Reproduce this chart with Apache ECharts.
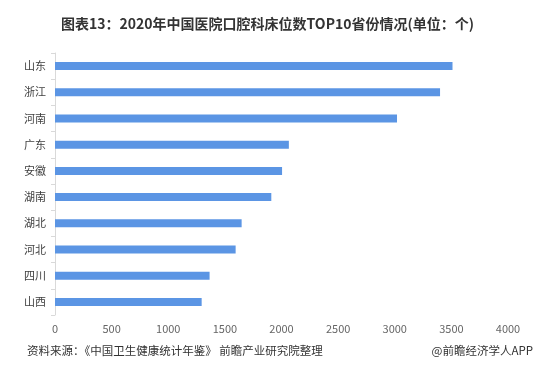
<!DOCTYPE html>
<html><head><meta charset="utf-8">
<script src="https://cdn.jsdelivr.net/npm/echarts@6/dist/echarts.min.js"></script>
<style>html,body{margin:0;padding:0;background:#fff}#c{width:549px;height:369px}</style>
</head><body><div id="c"></div>
<script>
const categories = ['山东','浙江','河南','广东','安徽','湖南','湖北','河北','四川','山西'];
const beds = [3510, 3400, 3020, 2065, 2005, 1910, 1648, 1595, 1365, 1295];
const xTicks = [0, 500, 1000, 1500, 2000, 2500, 3000, 3500, 4000];
const titleText = '图表13：2020年中国医院口腔科床位数TOP10省份情况(单位：个)';
const sourceText = '资料来源：《中国卫生健康统计年鉴》 前瞻产业研究院整理';
const creditText = '@前瞻经济学人APP';

const chart = echarts.init(document.getElementById('c'));
chart.setOption({
  animation: false,
  title: {
    text: titleText, left: 56, top: 12,
    textStyle: {fontSize: 14, fontWeight: 'bold', color: '#333', fontFamily: 'Noto Sans CJK SC'}
  },
  graphic: [
    {type: 'text', left: 27, top: 345, style: {text: sourceText, fontSize: 11.5, fill: '#333', fontFamily: 'Noto Sans CJK SC'}},
    {type: 'text', right: 16, top: 345, style: {text: creditText, fontSize: 11.5, fill: '#333', fontFamily: 'Noto Sans CJK SC'}}
  ],
  grid: {left: 55, right: 41, top: 53, bottom: 54},
  xAxis: {
    type: 'value', min: xTicks[0], max: xTicks[xTicks.length-1], interval: 500,
    axisLine: {show: false}, axisTick: {show: false}, splitLine: {show: false},
    axisLabel: {color: '#666', fontSize: 11, margin: 8, fontFamily: 'Noto Sans CJK SC', formatter: v => String(v)}
  },
  yAxis: {
    type: 'category', data: categories, inverse: true,
    axisLine: {show: true, lineStyle: {color: '#d9d9d9'}},
    axisTick: {show: true, lineStyle: {color: '#d9d9d9'}, length: 4},
    axisLabel: {color: '#404040', fontSize: 11, margin: 9, fontFamily: 'Noto Sans CJK SC'}
  },
  series: [{
    type: 'bar', data: beds, barWidth: 8,
    itemStyle: {color: '#5b95e4'}
  }]
});
</script></body></html>
